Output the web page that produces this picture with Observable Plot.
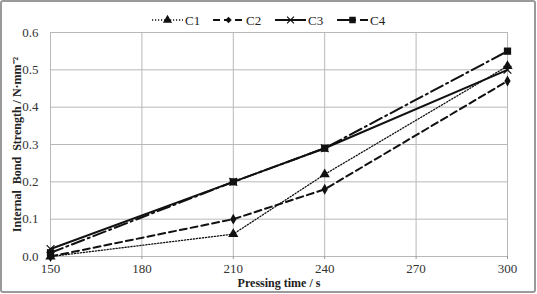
<!DOCTYPE html>
<html><head><meta charset="utf-8">
<script src="https://cdn.jsdelivr.net/npm/d3@7"></script>
<script src="https://cdn.jsdelivr.net/npm/@observablehq/plot@0.6"></script>
<style>
body{margin:0;background:#fff}
#wrap{position:relative;width:537px;height:294px;overflow:hidden}
#frame{position:absolute;left:0;top:0;width:536px;height:293px;border:2px solid #9a9a9a;border-radius:3px;box-sizing:border-box;pointer-events:none}
#legend{position:absolute;left:0;top:10px;width:537px;height:20px}
</style>
</head><body>
<div id="wrap"><div id="frame"></div></div>
<script>
const times = [150, 210, 240, 300];
const seriesNames = ["C1", "C2", "C3", "C4"];
const c1 = [0.00, 0.06, 0.22, 0.51];
const c2 = [0.00, 0.10, 0.18, 0.47];
const c3 = [0.02, 0.20, 0.29, 0.50];
const c4 = [0.01, 0.20, 0.29, 0.55];
const xTicks = [150, 180, 210, 240, 270, 300];
const yTicks = [0, 0.1, 0.2, 0.3, 0.4, 0.5, 0.6];

const styles = {
  C1: {dash: "1.2,1.8", width: 1.3, symbol: "triangle", r: 3.8},
  C2: {dash: "7,4", width: 2, symbol: "diamond", r: 3.3},
  C3: {dash: null, width: 2, symbol: "times", r: 3.6},
  C4: {dash: "13,4,2,4", width: 2, symbol: "square", r: 4.1}
};
const values = [c1, c2, c3, c4];
const data = seriesNames.map((s, i) => times.map((t, j) => ({series: s, t, v: values[i][j]})));

const marks = [
  Plot.gridX(xTicks, {stroke: "#b8b8b8", strokeOpacity: 1, strokeWidth: 1}),
  Plot.gridY(yTicks, {stroke: "#b8b8b8", strokeOpacity: 1, strokeWidth: 1}),
  Plot.axisX({ticks: xTicks, tickSize: 3, tickPadding: 4, stroke: "#999", label: "Pressing time / s", labelAnchor: "center", labelArrow: "none", labelOffset: 30}),
  Plot.axisY({ticks: yTicks, tickSize: 0, tickPadding: 12, tickFormat: d3.format(".1f"), label: "Internal  Bond  Strength / N·mm⁻²", labelAnchor: "center", labelArrow: "none", labelOffset: 38})
];
seriesNames.forEach((s, i) => {
  const st = styles[s];
  marks.push(Plot.line(data[i], {x: "t", y: "v", stroke: "#111", strokeWidth: st.width, strokeDasharray: st.dash}));
});
seriesNames.forEach((s, i) => {
  const st = styles[s];
  marks.push(Plot.dot(data[i], {x: "t", y: "v", symbol: st.symbol, r: st.r,
    fill: st.symbol === "times" ? "none" : "#111", stroke: st.symbol === "times" ? "#111" : "none", strokeWidth: 1.2}));
});

const chart = Plot.plot({
  width: 537, height: 294,
  marginLeft: 50, marginRight: 30, marginTop: 32, marginBottom: 38,
  style: {fontFamily: "'Liberation Serif', 'Times New Roman', serif", fontSize: "13px", color: "#333", background: "transparent"},
  x: {domain: [150, 300]},
  y: {domain: [0, 0.6]},
  marks
});
d3.select(chart).selectAll('[aria-label="x-axis label"] text, [aria-label="y-axis label"] text')
  .attr("font-weight", "bold").attr("font-size", 12).attr("fill", "#222");
document.getElementById("wrap").prepend(chart);

// legend
const legend = d3.select("#wrap").append("svg").attr("id", "legend").attr("width", 537).attr("height", 20);
const starts = [152, 213, 275, 337];
seriesNames.forEach((s, i) => {
  const st = styles[s];
  const g = legend.append("g").attr("transform", `translate(${starts[i]},10)`);
  g.append("line").attr("x1", 0).attr("x2", 31).attr("y1", 0).attr("y2", 0)
    .attr("stroke", "#111").attr("stroke-width", st.width).attr("stroke-dasharray", st.dash);
  const sym = {triangle: d3.symbolTriangle, diamond: d3.symbolDiamond2, times: d3.symbolTimes, square: d3.symbolSquare}[st.symbol];
  g.append("path").attr("transform", "translate(15.5,0)")
    .attr("d", d3.symbol(sym, Math.PI * st.r * st.r * 0.8)())
    .attr("fill", st.symbol === "times" ? "none" : "#111")
    .attr("stroke", st.symbol === "times" ? "#111" : "none").attr("stroke-width", 1.2);
  g.append("text").attr("x", 33).attr("y", 4.5).text(s)
    .attr("font-family", "'Liberation Serif', serif").attr("font-size", 13).attr("fill", "#222");
});
</script>
</body></html>
